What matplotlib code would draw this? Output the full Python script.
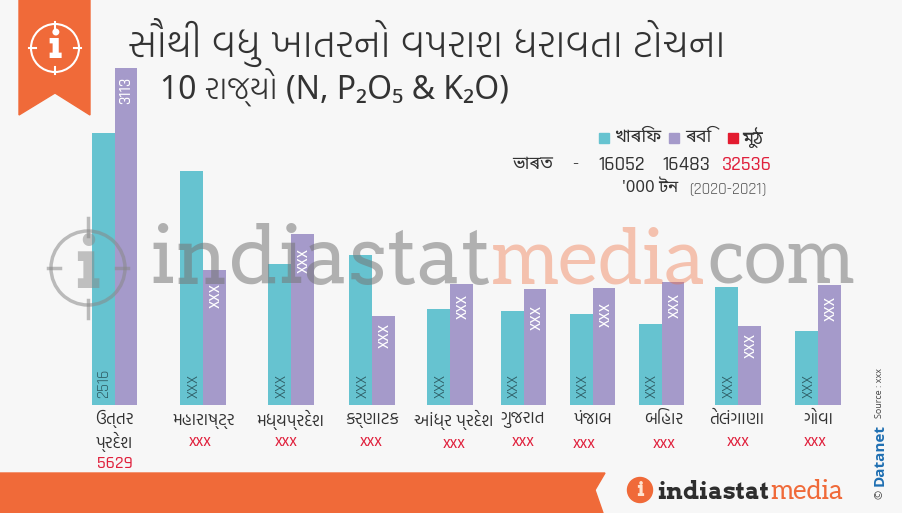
import matplotlib
matplotlib.use("Agg")
import matplotlib.pyplot as plt
from matplotlib.patches import Polygon, Circle, Rectangle

GUJ = ["Open Sans", "Hind Vadodara", "Noto Sans Gujarati", "DejaVu Sans"]
TITLE2 = ["Noto Sans", "Hind Vadodara", "Noto Sans Gujarati", "DejaVu Sans"]
BEN = ["Noto Sans Bengali", "Open Sans", "DejaVu Sans"]
NUM = ["Rajdhani", "Roboto", "DejaVu Sans"]
SLAB = ["Aleo", "DejaVu Serif"]
SLAB_WIDE = ["Arvo", "DejaVu Serif"]

plt.rcParams["font.family"] = GUJ

# state names and values
states = ["ઉત્તર\nપ્રદેશ", "મહારાષ્ટ્ર", "મધ્યપ્રદેશ", "કર્ણાટક", "આંધ્ર પ્રદેશ",
          "ગુજરાત", "પંજાબ", "બિહાર", "તેલંગાણા", "ગોવા"]
kharif = [2516, 2161, 1302, 1386, 887, 868, 841, 748, 1090, 684]
rabi = [3113, 1247, 1580, 822, 1118, 1071, 1081, 1136, 730, 1108]
kharif_labels = ["2516"] + ["xxx"] * 9
rabi_labels = ["3113"] + ["xxx"] * 9
total_labels = ["5629"] + ["xxx"] * 9

# uneven group spacing in the original, x in pixels
group_x = [114.5, 203, 291, 372, 450, 523.5, 592.5, 661.5, 738, 818]
name_x = [114, 204, 290.5, 372, 454, 523, 593, 664, 736.5, 818.5]
total_x = [115, 200, 286, 371, 454.5, 523.5, 584.5, 664.5, 738, 815]
total_y = [464, 442, 442, 442, 443, 442, 443, 443, 442, 442]
rabi_gap = [9, 13, 14, 7, 10, 16, 14, 11, 7, 11]

ORANGE = "#F06A39"
TEAL = "#66C3D0"
PURPLE = "#A59ACA"
RED = "#E0203C"
DARK = "#333333"

fig = plt.figure(figsize=(9.02, 5.13), dpi=100, facecolor="#F7F7F7")

# bar axes: bottom edge at y=405 px, 0.10826 px per unit
ax = fig.add_axes([0, 1 - 405 / 513, 1, 405 / 513], zorder=1)
ax.set_xlim(0, 902)
ax.set_ylim(0, 405 / 0.10826)
ax.axis("off")

width = 22.7
ax.bar([x - width / 2 for x in group_x], kharif, width, color=TEAL)
ax.bar([x + width / 2 for x in group_x], rabi, width, color=PURPLE)

for i, x in enumerate(group_x):
    size = 12 if i == 0 else 14
    ax.annotate(kharif_labels[i], (x - width / 2, 0), xytext=(0, 5), textcoords="offset points",
                rotation=90, ha="center", va="bottom", fontsize=size, color="#2F5E66", family=NUM)
    ax.annotate(rabi_labels[i], (x + width / 2, rabi[i]), xytext=(0, -rabi_gap[i] * 0.72),
                textcoords="offset points", rotation=90, ha="center", va="top", fontsize=size,
                color="white", family=NUM, fontweight="medium")

# pixel overlay on top of the bars, y runs downwards like the image
top = fig.add_axes([0, 0, 1, 1], zorder=2)
top.set_xlim(0, 902)
top.set_ylim(513, 0)
top.axis("off")
top.patch.set_alpha(0)

# watermark
top.add_patch(Circle((88, 268), 37, fill=False, ec="#888888", lw=2.5, alpha=0.55))
for x0, y0, x1, y1 in [(88, 218, 88, 236), (88, 300, 88, 318), (48, 268, 60, 268), (116, 268, 128, 268)]:
    top.plot([x0, x1], [y0, y1], color="#888888", lw=2.5, alpha=0.55)
top.text(88, 268, "i", fontsize=52, family=SLAB_WIDE, fontweight="bold", color="#888888",
         alpha=0.5, ha="center", va="center")
top.text(149, 284, "indiastat", fontsize=58, family=SLAB_WIDE, color="#777777", alpha=0.55,
         ha="left", va="baseline")
top.text(491, 284, "media", fontsize=56, family=SLAB, color=ORANGE, alpha=0.38,
         ha="left", va="baseline")
top.text(707, 284, "com", fontsize=56, family=SLAB, color="#777777", alpha=0.55,
         ha="left", va="baseline")

# ribbon with info icon
top.add_patch(Polygon([(19, 0), (90, 0), (90, 115), (55, 93), (19, 115)], color=ORANGE))
top.add_patch(Circle((55, 48), 24, fill=False, ec="white", lw=1.5))
for x0, y0, x1, y1 in [(55, 22, 55, 29), (55, 67, 55, 74), (29, 48, 36, 48), (74, 48, 81, 48)]:
    top.plot([x0, x1], [y0, y1], color="white", lw=1.5)
top.text(55, 47, "i", fontsize=29, family=SLAB_WIDE, fontweight="bold", color="white",
         ha="center", va="center")

# title
top.text(128, 42, "સૌથી વધુ ખાતરનો વપરાશ ધરાવતા ટોચના", fontsize=28.2, color=DARK, ha="left", va="center",
         fontweight="light")
top.text(160, 88, "10 રાજ્યો (N, P₂O₅ & K₂O)", fontsize=23, color=DARK, ha="left", va="center",
         fontweight="light", family=TITLE2)

# legend block
for x, c in [(604, TEAL), (674, PURPLE), (733, "#E31B2F")]:
    top.add_patch(Rectangle((x - 5, 133), 10, 10, color=c))
top.text(614, 137, "খাৰিফ", fontsize=13, color=DARK, va="center", family=BEN)
top.text(685, 137, "ৰবি", fontsize=13, color=DARK, va="center", family=BEN)
top.text(742, 137, "মুঠ", fontsize=13, color=DARK, va="center", family=BEN)
top.text(512, 164, "ভাৰত", fontsize=13, color=DARK, va="center", family=BEN)
top.text(575, 165, "-", fontsize=14, color=DARK, ha="center", va="center", family=NUM)
top.text(598, 165, "16052", fontsize=14.5, color=DARK, ha="left", va="center", family=NUM, fontweight="medium")
top.text(662, 165, "16483", fontsize=14.5, color=DARK, ha="left", va="center", family=NUM, fontweight="medium")
top.text(722, 165, "32536", fontsize=14.5, color=RED, ha="left", va="center", family=NUM, fontweight="medium")
top.text(622, 188, "'000 টন", fontsize=12, color=DARK, ha="left", va="center", family=BEN)
top.text(767, 188, "(2020-2021)", fontsize=12, color="#555555", ha="right", va="center", family=NUM)

# state names and totals
for i, name in enumerate(states):
    y = 431 if i == 0 else 420
    top.text(name_x[i], y, name, fontsize=12, color=DARK, ha="center", va="center", linespacing=1.25)
    top.text(total_x[i], total_y[i], total_labels[i], fontsize=13, color=RED, ha="center", va="center",
             family=NUM, fontweight="medium")

# footer band
top.add_patch(Polygon([(0, 473), (605, 473), (595, 490), (603, 513), (0, 513)], color=ORANGE))
top.add_patch(Circle((640, 490), 12.5, color=ORANGE))
top.text(640, 490, "i", fontsize=15, family=SLAB_WIDE, fontweight="bold", color="#FFE3D0",
         ha="center", va="center")
top.text(657, 499, "indiastat", fontsize=17, family=SLAB_WIDE, fontweight="bold", color="#2E2E2E",
         ha="left", va="baseline")
top.text(770, 499, "media", fontsize=19, family=SLAB, color=ORANGE, ha="left", va="baseline")

# source strip
top.text(880, 499, "©", fontsize=8, color="#444444", rotation=90, ha="center", va="bottom", family="Open Sans")
top.text(880, 486, "Datanet", fontsize=11, fontweight="bold", color="#1F6FB2", rotation=90, ha="center", va="bottom",
         family="Open Sans")
top.text(880, 418, "Source : xxx", fontsize=6.5, color="#444444", rotation=90, ha="center", va="bottom",
         family="Open Sans")

fig.savefig("out.png", dpi=100, facecolor=fig.get_facecolor())
